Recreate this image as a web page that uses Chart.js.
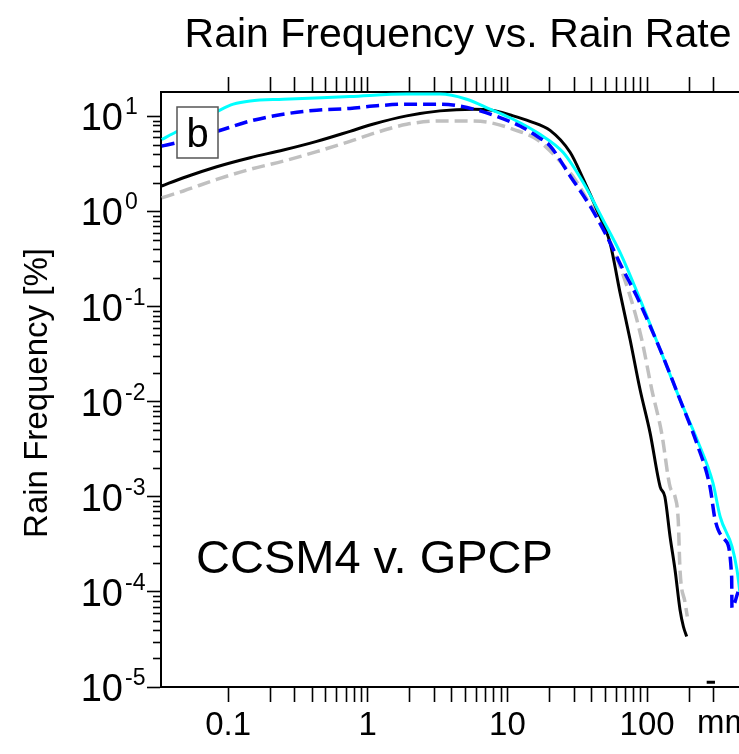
<!DOCTYPE html>
<html>
<head>
<meta charset="utf-8">
<script src="https://cdn.jsdelivr.net/npm/chart.js@4.4.0/dist/chart.umd.min.js"></script>
<style>
html, body { margin: 0; padding: 0; background: #fff; overflow: hidden; }
#wrap { width: 739px; height: 754px; overflow: hidden; }
</style>
</head>
<body>
<div id="wrap"><canvas id="rainChart" width="800" height="754"></canvas></div>
<script>
// rain rate [mm/day] vs rain frequency [%]
const cyanRate = [0.0335, 0.042, 0.083, 0.109, 0.144, 0.248, 0.746, 1.9, 3.29, 5.11, 7.5, 11.0, 17.1, 25, 34.8, 48.3, 64, 89, 124, 172, 228, 296, 333, 406, 440, 462];
const cyanFreq = [5.7, 6.8, 11.2, 13.4, 14.5, 15.1, 16.1, 17.1, 17.1, 15.1, 11.9, 9.3, 6.46, 4.18, 2.02, 0.82, 0.37, 0.119, 0.0352, 0.0105, 0.00398, 0.0014, 6.2e-4, 2.98e-4, 1.7e-4, 9.8e-5];

const blueRate = [0.0335, 0.043, 0.0848, 0.144, 0.248, 0.431, 0.746, 1.09, 1.9, 3.29, 4.58, 6.37, 8.85, 12.3, 16.2, 20.2, 28.1, 39, 51.4, 67.2, 84.3, 124, 172, 226, 282, 307, 362, 403, 405, 448];
const blueFreq = [4.87, 5.28, 7.0, 8.92, 10.5, 11.6, 12.1, 12.8, 13.4, 13.4, 12.8, 11.4, 9.7, 7.9, 6.2, 4.87, 2.36, 1.14, 0.55, 0.245, 0.128, 0.0352, 0.0105, 0.0037, 1.27e-3, 5.7e-4, 3.5e-4, 1.44e-4, 6.8e-5, 1.0e-4];

const blackRate = [0.0335, 0.0479, 0.083, 0.144, 0.249, 0.431, 0.746, 1.1, 1.9, 3.29, 5.7, 7.5, 11.0, 14.5, 20.2, 28.1, 35, 43.6, 54.2, 64, 75.5, 89, 105, 124, 134, 146, 158.5, 172, 182, 192, 230, 267, 306];
const blackFreq = [1.85, 2.26, 2.95, 3.67, 4.42, 5.45, 6.95, 8.3, 10.1, 11.4, 11.85, 11.65, 10.1, 8.85, 7.1, 4.18, 2.17, 1.05, 0.47, 0.14, 0.045, 0.0134, 0.0047, 1.27e-3, 1.0e-3, 3.8e-4, 1.7e-4, 6.5e-5, 4.3e-5, 3.4e-5, null, 1.12e-5, 1.12e-5];

const grayRate = [0.0335, 0.0479, 0.083, 0.144, 0.249, 0.431, 0.746, 1.1, 1.9, 3.29, 5.11, 7.5, 11.0, 16.2, 23.8, 30.5, 39, 46, 73, 91.5, 108, 127, 146, 158.5, 167, 172, 187, 194];
const grayFreq = [1.39, 1.64, 2.17, 2.77, 3.38, 4.25, 5.45, 6.6, 8.24, 8.92, 8.92, 8.58, 7.3, 5.73, 3.36, 2.17, 1.19, 0.82, 0.151, 0.045, 0.0134, 0.0047, 1.27e-3, 1.0e-3, 5.7e-4, 1.7e-4, 7.7e-5, 5.5e-5];

const xTicks = [0.1, 0.2, 0.3, 0.4, 0.5, 0.6, 0.7, 0.8, 0.9, 1, 2, 3, 4, 5, 6, 7, 8, 9, 10, 20, 30, 40, 50, 60, 70, 80, 90, 100, 200, 300];
const xLabels = { 0.1: '0.1', 1: '1', 10: '10', 100: '100' };
const yExponents = [1, 0, -1, -2, -3, -4, -5];

const FONT = '"Liberation Sans", Arial, Helvetica, sans-serif';

function isDecade(v) {
    const l = Math.log10(v);
    return Math.abs(l - Math.round(l)) < 1e-6;
}

let yTicks = [];
for (let k = -5; k <= 1; k++) {
    for (let m = 1; m <= 9; m++) {
        if (m * Math.pow(10, k) <= 18) yTicks.push(m * Math.pow(10, k));
    }
}

function pts(xs, ys) {
    return xs.map((x, i) => ({ x: x, y: ys[i] }));
}

const decorations = {
    id: 'decorations',
    afterDatasetsDraw(chart) {
        const ctx = chart.ctx;
        const ca = chart.chartArea;
        // panel letter box
        ctx.save();
        ctx.fillStyle = '#fff';
        ctx.strokeStyle = '#555';
        ctx.lineWidth = 1.5;
        ctx.fillRect(ca.left + 16, ca.top + 15, 41, 51);
        ctx.strokeRect(ca.left + 16, ca.top + 15, 41, 51);
        ctx.fillStyle = '#000';
        ctx.font = '40px ' + FONT;
        ctx.textAlign = 'center';
        ctx.textBaseline = 'alphabetic';
        ctx.fillText('b', ca.left + 36.5, ca.top + 55);
        // model vs obs label
        ctx.textAlign = 'left';
        ctx.font = '47px ' + FONT;
        ctx.fillText('CCSM4 v. GPCP', 196, 573);
        ctx.restore();
    },
    afterDraw(chart) {
        const ctx = chart.ctx;
        const ca = chart.chartArea;
        const ys = chart.scales.y;
        ctx.save();
        // minor ticks on the left axis
        ctx.strokeStyle = '#000';
        ctx.lineWidth = 1.6;
        yTicks.forEach(v => {
            if (isDecade(v)) return;
            const py = Math.round(ys.getPixelForValue(v)) + 0.5;
            ctx.beginPath();
            ctx.moveTo(ca.left - 8, py);
            ctx.lineTo(ca.left, py);
            ctx.stroke();
        });
        // 10^n labels
        ctx.fillStyle = '#000';
        yExponents.forEach(e => {
            const py = ys.getPixelForValue(Math.pow(10, e));
            ctx.textBaseline = 'alphabetic';
            ctx.textAlign = 'right';
            ctx.font = '38px ' + FONT;
            ctx.fillText('10', 123, py + 14);
            ctx.textAlign = 'left';
            ctx.font = '23px ' + FONT;
            ctx.fillText(String(e), 125, py - 2);
        });
        // axis title
        ctx.save();
        ctx.translate(38, 393);
        ctx.rotate(-Math.PI / 2);
        ctx.textAlign = 'center';
        ctx.textBaseline = 'middle';
        ctx.font = '33px ' + FONT;
        ctx.fillText('Rain Frequency [%]', 0, 0);
        ctx.restore();
        // main title
        ctx.textAlign = 'center';
        ctx.textBaseline = 'alphabetic';
        ctx.font = '41px ' + FONT;
        ctx.fillText('Rain Frequency vs. Rain Rate', 458, 47);
        // units next to the last tick label
        ctx.textAlign = 'left';
        ctx.font = '33px ' + FONT;
        ctx.fillText('mm/day', 697, 733);
        ctx.restore();
    }
};

const tickGrid = {
    drawOnChartArea: false,
    drawTicks: true,
    tickLength: 15,
    tickColor: '#000',
    tickWidth: 1.6
};

new Chart(document.getElementById('rainChart'), {
    type: 'line',
    data: {
        datasets: [{
            data: pts(blueRate, blueFreq),
            borderColor: '#0000ff',
            borderWidth: 3.5,
            borderDash: [13, 6]
        }, {
            data: pts(cyanRate, cyanFreq),
            borderColor: '#00ffff',
            borderWidth: 3
        }, {
            data: pts(blackRate, blackFreq),
            borderColor: '#000000',
            borderWidth: 3
        }, {
            data: pts(grayRate, grayFreq),
            borderColor: '#c0c0c0',
            borderWidth: 3.5,
            borderDash: [13, 6]
        }]
    },
    options: {
        responsive: false,
        animation: false,
        layout: { padding: { top: 77, left: 0, right: 20, bottom: 0 } },
        elements: {
            point: { radius: 0 },
            line: { cubicInterpolationMode: 'monotone', fill: false }
        },
        spanGaps: false,
        plugins: {
            legend: { display: false },
            tooltip: { enabled: false },
            title: { display: false }
        },
        scales: {
            x: {
                type: 'logarithmic',
                position: 'bottom',
                min: 0.0331,
                max: 894,
                afterBuildTicks: s => { s.ticks = xTicks.map(v => ({ value: v })); },
                afterFit: s => { s.height = 67; },
                border: { display: true, color: '#000', width: 2 },
                grid: tickGrid,
                ticks: {
                    autoSkip: false,
                    maxRotation: 0,
                    padding: 4,
                    color: '#000',
                    font: { family: FONT, size: 33 },
                    callback: v => xLabels[v] || ''
                }
            },
            x2: {
                type: 'logarithmic',
                position: 'top',
                min: 0.0331,
                max: 894,
                afterBuildTicks: s => { s.ticks = xTicks.map(v => ({ value: v })); },
                afterFit: s => { s.height = 15; },
                border: { display: true, color: '#000', width: 2 },
                grid: tickGrid,
                ticks: { display: false }
            },
            y: {
                type: 'logarithmic',
                position: 'left',
                min: 1e-5,
                max: 18,
                afterBuildTicks: s => { s.ticks = yTicks.map(v => ({ value: v })); },
                afterFit: s => { s.width = 161; },
                border: { display: true, color: '#000', width: 2 },
                grid: {
                    drawOnChartArea: false,
                    drawTicks: true,
                    tickLength: 14,
                    tickWidth: 1.6,
                    tickColor: c => (c.tick && isDecade(c.tick.value)) ? '#000' : 'rgba(0,0,0,0)'
                },
                ticks: { display: false }
            }
        }
    },
    plugins: [decorations]
});
</script>
</body>
</html>
